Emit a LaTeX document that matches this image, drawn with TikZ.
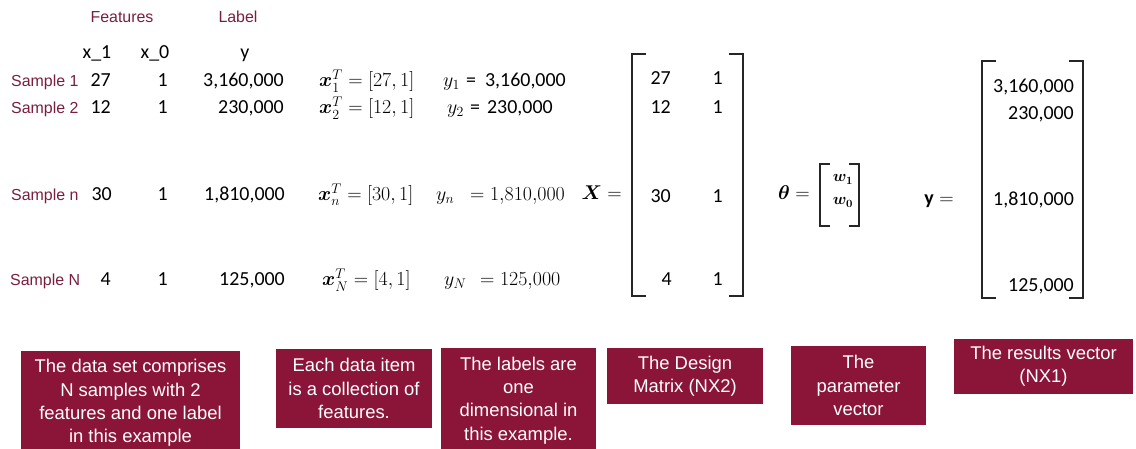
\RequirePackage{fix-cm}
\documentclass[tikz,border=0pt]{standalone}
\usepackage{amsmath}
\usepackage{bm}
\usepackage{fontspec}
\setmainfont{Carlito}
\newfontfamily\arialf{Liberation Sans}
\definecolor{boxred}{RGB}{138,21,56}
\definecolor{hdrred}{RGB}{122,30,62}
\begin{document}
\begin{tikzpicture}[x=1bp,y=-1bp,
  hdr/.style={font=\arialf\fontsize{16}{18}\selectfont, text=hdrred, inner sep=0pt},
  smp/.style={font=\arialf\fontsize{16}{18}\selectfont, text=hdrred, inner sep=0pt, anchor=base west},
  val/.style={font=\fontsize{20}{24}\selectfont, inner sep=0pt},
  fml/.style={font=\fontsize{20}{24}\selectfont, inner sep=0pt, anchor=base west},
  note/.style={fill=boxred, text=white, font=\arialf\fontsize{18.5}{23.5}\selectfont, align=center, inner sep=0pt},
  brk/.style={line width=1.2bp, black!85}]
\useasboundingbox (0,0) rectangle (1136,449);

% headers
\node[hdr, anchor=base] (feat) at (122,23) {Features};
\node[hdr, anchor=base] (lab) at (238,23) {Label};
\node[val, anchor=base] (h1) at (97,59) {x\_1};
\node[val, anchor=base] (h0) at (155,59) {x\_0};
\node[val, anchor=base] (hy) at (245,59) {y};

% sample labels
\node[smp] (s1) at (11,87) {Sample 1};
\node[smp] (s2) at (11,114) {Sample 2};
\node[smp] (sn) at (11,201) {Sample n};
\node[smp] (sN) at (10,286) {Sample N};

% data table
\node[val, anchor=base east] (a1) at (111,87) {27};
\node[val, anchor=base east] (a2) at (111,114) {12};
\node[val, anchor=base east] (an) at (112,201) {30};
\node[val, anchor=base east] (aN) at (111,286) {4};
\node[val, anchor=base east] (b1) at (168,87) {1};
\node[val, anchor=base east] (b2) at (168,114) {1};
\node[val, anchor=base east] (bn) at (168,201) {1};
\node[val, anchor=base east] (bN) at (168,286) {1};
\node[val, anchor=base east] (c1) at (284,87) {3,160,000};
\node[val, anchor=base east] (c2) at (284,114) {230,000};
\node[val, anchor=base east] (cn) at (285,201) {1,810,000};
\node[val, anchor=base east] (cN) at (285,286) {125,000};

% per-item formulas
\node[fml] (f1) at (319,87) {$\bm{x}_1^T=[27,1]$};
\node[fml] (f2) at (319,114) {$\bm{x}_2^T=[12,1]$};
\node[fml] (fn) at (318,201) {$\bm{x}_n^T=[30,1]$};
\node[fml] (fN) at (322,286) {$\bm{x}_N^T=[4,1]$};
\node[fml] (y1) at (443,87) {$y_1$};
\node[fml] (y2) at (447,114) {$y_2$};
\node[fml] (yn) at (436,201) {$y_n$};
\node[fml] (yN) at (444,286) {$y_N$};
\node[val, anchor=base west] (v1) at (466,87) {=\hspace{9bp}3,160,000};
\node[val, anchor=base west] (v2) at (470,114) {=\hspace{7bp}230,000};
\node[fml] (vn) at (470,201) {$=1{,}810{,}000$};
\node[fml] (vN) at (480,286) {$=125{,}000$};

% design matrix
\node[fml, anchor=base east] (Xeq) at (622,200) {$\bm{X}=$};
\draw[brk] (646,54) -- (632,54) -- (632,296) -- (646,296);
\draw[brk] (729,54) -- (743,54) -- (743,296) -- (729,296);
\node[val, anchor=base east] (m11) at (671,85) {27};
\node[val, anchor=base east] (m21) at (671,114) {12};
\node[val, anchor=base east] (m31) at (671,203) {30};
\node[val, anchor=base east] (m41) at (672,286) {4};
\node[val, anchor=base east] (m12) at (723,85) {1};
\node[val, anchor=base east] (m22) at (723,114) {1};
\node[val, anchor=base east] (m32) at (723,203) {1};
\node[val, anchor=base east] (m42) at (723,286) {1};

% parameter vector
\node[fml, anchor=base east] (theq) at (810,200) {$\bm{\theta}=$};
\draw[brk] (830,164) -- (820,164) -- (820,226) -- (830,226);
\node[fml, font=\fontsize{16}{18}\selectfont, anchor=base] (w1) at (843,182) {$\bm{w}_{\bm{1}}$};
\node[fml, font=\fontsize{16}{18}\selectfont, anchor=base] (w0) at (843,205) {$\bm{w}_{\bm{0}}$};
\draw[brk] (849,164) -- (859,164) -- (859,226) -- (849,226);

% results vector
\node[fml, anchor=base east] (yeq) at (954,205) {$\mathbf{y}=$};
\draw[brk] (996,61) -- (982,61) -- (982,298) -- (996,298);
\draw[brk] (1069,61) -- (1083,61) -- (1083,298) -- (1069,298);
\node[val, anchor=base east] (r1) at (1074,93) {3,160,000};
\node[val, anchor=base east] (r2) at (1074,120) {230,000};
\node[val, anchor=base east] (r3) at (1074,206) {1,810,000};
\node[val, anchor=base east] (r4) at (1074,292) {125,000};

% explanation boxes
\node[note, minimum width=219bp, minimum height=104bp] (n1) at (130.5,403)
  {The data set comprises\\N samples with 2\\features and one label\\in this example};
\node[note, minimum width=156bp, minimum height=79bp] (n2) at (354,388.5)
  {Each data item\\is a collection of\\features.};
\node[note, minimum width=155bp, minimum height=105bp] (n3) at (518.5,400.5)
  {The labels are\\one\\dimensional in\\this example.};
\node[note, minimum width=156bp, minimum height=56bp] (n4) at (685,376)
  {The Design\\Matrix (NX2)};
\node[note, minimum width=135bp, minimum height=79bp] (n5) at (858.5,385.5)
  {The\\parameter\\vector};
\node[note, minimum width=179bp, minimum height=55bp] (n6) at (1043.5,366.5)
  {The results vector\\(NX1)};
\end{tikzpicture}
\end{document}
